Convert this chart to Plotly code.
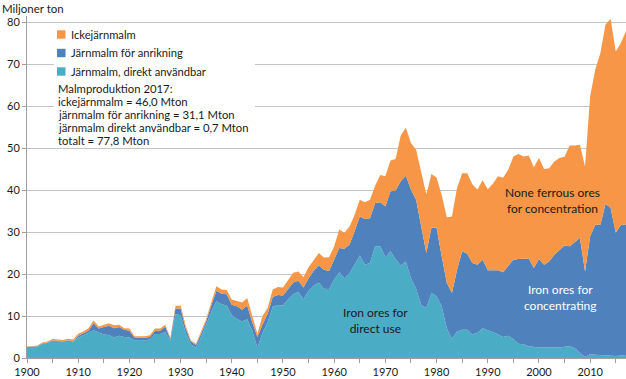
import plotly.graph_objects as go

years = list(range(1900, 2018))

direkt_anvandbar = [
    2.6, 2.6, 2.7, 3.4, 3.6, 4.1, 4.0, 3.9, 4.1, 3.9,
    4.9, 5.4, 6.0, 6.6, 6.0, 5.6, 5.5, 4.9, 5.3, 5.0,
    4.9, 4.2, 4.3, 4.2, 4.4, 5.7, 5.7, 6.2, 4.1, 10.5,
    10.2, 6.0, 3.2, 2.5, 5.0, 8.0, 11.0, 13.5, 12.8, 12.5,
    10.2, 9.3, 8.7, 9.2, 6.5, 2.5, 6.0, 8.5, 12.2, 12.6,
    12.5, 14.0, 15.2, 15.8, 14.0, 16.0, 17.2, 18.0, 16.5, 16.4,
    18.7, 20.4, 19.0, 20.2, 22.2, 24.4, 22.2, 22.6, 26.6, 26.6,
    24.0, 25.4, 23.6, 22.0, 23.0, 19.0, 16.5, 12.7, 11.9, 15.5,
    14.7, 12.3, 7.1, 4.5, 6.3, 6.7, 6.7, 5.6, 6.0, 7.1,
    6.6, 6.2, 5.6, 5.0, 5.3, 4.5, 3.4, 3.3, 2.8, 2.6,
    2.5, 2.5, 2.5, 2.6, 2.5, 2.7, 2.8, 2.4, 1.2, 0.3,
    0.9, 0.8, 0.7, 0.6, 0.6, 0.5, 0.6, 0.7,
]

for_anrikning = [
    0.1, 0.1, 0.1, 0.1, 0.1, 0.1, 0.1, 0.1, 0.1, 0.1,
    0.4, 0.5, 0.5, 1.7, 1.0, 1.8, 2.2, 2.2, 2.1, 1.7,
    1.6, 0.7, 0.6, 0.6, 0.6, 0.8, 0.8, 1.3, 0.4, 1.3,
    1.6, 1.0, 0.7, 0.6, 0.8, 0.8, 1.5, 2.5, 2.5, 2.7,
    2.5, 3.0, 2.8, 3.3, 2.0, 2.5, 2.0, 2.0, 2.3, 2.4,
    2.4, 2.5, 2.8, 2.6, 2.8, 3.0, 3.6, 4.0, 4.5, 4.3,
    4.7, 5.8, 7.0, 6.8, 8.0, 9.3, 10.9, 10.7, 10.3, 10.5,
    12.1, 14.3, 16.3, 20.1, 20.4, 21.1, 21.2, 18.6, 13.1, 15.5,
    16.3, 11.9, 10.8, 11.0, 14.7, 18.7, 18.1, 17.0, 16.2, 16.3,
    14.3, 14.7, 15.3, 15.4, 16.5, 18.9, 20.2, 20.4, 20.9, 18.8,
    21.1, 19.7, 20.5, 22.0, 23.3, 24.1, 23.8, 25.1, 27.4, 20.3,
    28.1, 30.9, 31.0, 36.1, 35.1, 29.3, 31.1, 31.1,
]

ickejarnmalm = [
    0.1, 0.1, 0.2, 0.2, 0.2, 0.3, 0.3, 0.3, 0.4, 0.4,
    0.5, 0.4, 0.6, 0.6, 0.5, 0.5, 0.6, 0.7, 0.5, 0.4,
    0.5, 0.3, 0.3, 0.4, 0.4, 0.5, 0.5, 0.4, 0.3, 0.6,
    0.7, 0.7, 0.3, 0.3, 0.5, 0.5, 0.8, 1.1, 1.0, 1.0,
    1.2, 1.3, 1.7, 1.8, 1.7, 0.8, 2.0, 1.4, 1.8, 1.9,
    1.9, 2.2, 2.3, 2.2, 2.4, 2.6, 2.6, 3.0, 2.9, 3.3,
    3.2, 4.4, 3.8, 4.3, 3.9, 4.0, 4.0, 4.4, 4.1, 6.5,
    7.2, 7.3, 7.5, 10.9, 11.4, 11.1, 11.9, 13.1, 13.9, 12.8,
    12.0, 14.6, 15.6, 18.2, 19.5, 18.6, 19.2, 18.7, 17.9, 18.9,
    19.3, 20.6, 22.4, 22.5, 23.0, 24.6, 25.0, 24.3, 24.5, 24.0,
    24.0, 22.8, 22.2, 22.2, 21.8, 21.1, 24.0, 23.1, 22.2, 25.0,
    33.3, 37.0, 40.9, 42.7, 45.0, 43.2, 43.3, 46.0,
]

series_names = ["Järnmalm, direkt användbar", "Järnmalm för anrikning", "Ickejärnmalm"]
series_colors = ["#4BACC6", "#4F81BD", "#F79646"]

legend_order = ["Ickejärnmalm", "Järnmalm för anrikning", "Järnmalm, direkt användbar"]

x_tick_values = list(range(1900, 2016, 5))
x_tick_labels = [str(v) if v % 10 == 0 else "" for v in x_tick_values]

summary_lines = [
    "Malmproduktion 2017:",
    "ickejärnmalm = 46,0 Mton",
    "järnmalm för anrikning = 31,1 Mton",
    "järnmalm direkt användbar = 0,7 Mton",
    "totalt = 77,8 Mton",
]

FONT = "Lato"
TXT = "#1a1a1a"

# plot area geometry (pixels)
W, H = 626, 379
L, R, T, B = 27, 0, 16, 21
PW, PH = W - L - R, H - T - B


def px(x):
    return (x - L) / PW


def py(y):
    return (H - B - y) / PH


fig = go.Figure()
for name, vals, col in zip(series_names, [direkt_anvandbar, for_anrikning, ickejarnmalm], series_colors):
    fig.add_trace(go.Scatter(
        x=years, y=vals, name=name, stackgroup="one", mode="lines",
        line=dict(width=0, color=col), fillcolor=col, showlegend=False,
        hoverinfo="x+y+name",
    ))

shapes = [dict(type="rect", xref="paper", yref="paper", x0=px(54), x1=px(255),
               y0=py(146), y1=py(25), fillcolor="white", line=dict(width=0), layer="above")]

annotations = [
    dict(text="Miljoner ton", xref="paper", yref="paper", x=px(0), y=py(8),
         xanchor="left", yanchor="middle", showarrow=False, font=dict(size=11.5, color=TXT)),
    dict(text="None ferrous ores<br>for concentration", xref="x", yref="y", x=2002.7, y=37.6,
         showarrow=False, font=dict(size=12, color=TXT)),
    dict(text="Iron ores for<br>concentrating", xref="x", yref="y", x=2004.1, y=14.5,
         showarrow=False, font=dict(size=12, color="white")),
    dict(text="Iron ores for<br>direct use", xref="x", yref="y", x=1968.0, y=9.0,
         showarrow=False, font=dict(size=12, color=TXT)),
]

# manual legend: square swatch + label
color_by_name = dict(zip(series_names, series_colors))
for i, name in enumerate(legend_order):
    cy = 34.5 + i * 18.5
    shapes.append(dict(type="rect", xref="paper", yref="paper", x0=px(57), x1=px(65.5),
                       y0=py(cy + 4.2), y1=py(cy - 4.2), fillcolor=color_by_name[name],
                       line=dict(width=0), layer="above"))
    annotations.append(dict(text=name, xref="paper", yref="paper", x=px(68.5), y=py(cy),
                            xanchor="left", yanchor="middle", showarrow=False,
                            font=dict(size=11.2, color=TXT)))

for i, line in enumerate(summary_lines):
    annotations.append(dict(text=line, xref="paper", yref="paper", x=px(56), y=py(89 + i * 12.8),
                            xanchor="left", yanchor="middle", showarrow=False,
                            font=dict(size=11.3, color=TXT)))

fig.update_layout(
    width=W, height=H,
    margin=dict(l=L, r=R, t=T, b=B),
    paper_bgcolor="white", plot_bgcolor="white",
    font=dict(family=FONT, size=11, color=TXT),
    showlegend=False,
    shapes=shapes,
    annotations=annotations,
    xaxis=dict(range=[1900, 2017], tickmode="array", tickvals=x_tick_values, ticktext=x_tick_labels,
               ticks="outside", ticklen=4, tickcolor="#a0a0a0", showline=True, linecolor="#a0a0a0",
               showgrid=False, zeroline=False, tickfont=dict(size=11, color=TXT)),
    yaxis=dict(range=[0, PH / 4.2], dtick=10, tick0=0, ticks="outside", ticklen=4, tickcolor="#a0a0a0",
               showline=True, linecolor="#a0a0a0", showgrid=True, gridcolor="#c4c4c4", gridwidth=1,
               zeroline=False, tickfont=dict(size=11, color=TXT)),
)

fig.write_html("out.html", config={"displayModeBar": False},
               post_script="document.body.style.margin='0';document.body.style.overflow='hidden';")
